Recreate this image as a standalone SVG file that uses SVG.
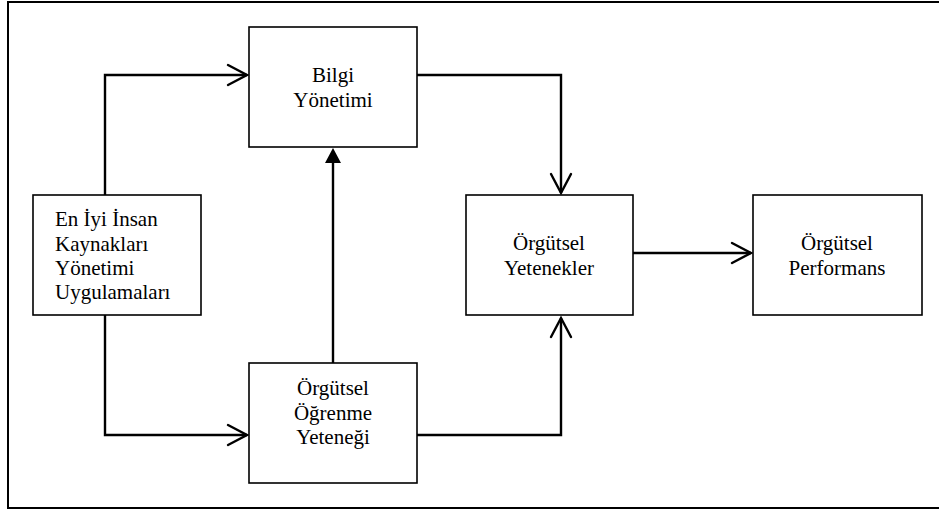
<svg xmlns="http://www.w3.org/2000/svg" width="939" height="511" viewBox="0 0 939 511">
  <style>
    .box { fill: #ffffff; stroke: #000000; stroke-width: 1.6; }
    .frame { fill: none; stroke: #000000; stroke-width: 2; }
    .conn { fill: none; stroke: #000000; stroke-width: 2.4; stroke-linejoin: miter; }
    .head { fill: none; stroke: #000000; stroke-width: 2.4; stroke-linecap: round; stroke-linejoin: miter; }
    .solid { fill: #000000; stroke: none; }
    .t { font-family: "Liberation Serif", "Times New Roman", serif; font-size: 21px; fill: #000000; }
    .c { text-anchor: middle; }
  </style>
  <rect x="0" y="0" width="939" height="511" fill="#ffffff"/>
  <rect class="frame" x="8" y="2" width="940" height="506"/>

  <g id="connectors">
    <!-- En Iyi -> Bilgi -->
    <polyline class="conn" points="105,195 105,75 247,75"/>
    <polyline class="head" points="228,65 247,75 228,85"/>
    <!-- En Iyi -> Ogrenme -->
    <polyline class="conn" points="105,315 105,435 247,435"/>
    <polyline class="head" points="228,425 247,435 228,445"/>
    <!-- Ogrenme -> Bilgi -->
    <line class="conn" x1="333" y1="363" x2="333" y2="162"/>
    <polygon class="solid" points="333,148 325,163 341,163"/>
    <!-- Bilgi -> Yetenekler -->
    <polyline class="conn" points="417,75 561,75 561,193"/>
    <polyline class="head" points="551,174 561,193 571,174"/>
    <!-- Ogrenme -> Yetenekler -->
    <polyline class="conn" points="417,435 561,435 561,318"/>
    <polyline class="head" points="551,337 561,318 571,337"/>
    <!-- Yetenekler -> Performans -->
    <line class="conn" x1="633" y1="253" x2="751" y2="253"/>
    <polyline class="head" points="732,243 751,253 732,263"/>
  </g>

  <g id="bilgi">
    <rect class="box" x="249" y="27" width="168" height="120"/>
    <text class="t c" x="333" y="82">Bilgi</text>
    <text class="t c" x="333" y="107">Yönetimi</text>
  </g>

  <g id="eniyi">
    <rect class="box" x="33" y="195" width="168" height="120"/>
    <text class="t" x="55" y="226">En İyi İnsan</text>
    <text class="t" x="55" y="251">Kaynakları</text>
    <text class="t" x="55" y="275">Yönetimi</text>
    <text class="t" x="55" y="299">Uygulamaları</text>
  </g>

  <g id="ogrenme">
    <rect class="box" x="249" y="363" width="168" height="120"/>
    <text class="t c" x="333" y="395">Örgütsel</text>
    <text class="t c" x="333" y="420">Öğrenme</text>
    <text class="t c" x="333" y="444">Yeteneği</text>
  </g>

  <g id="yetenekler">
    <rect class="box" x="466" y="195" width="167" height="120"/>
    <text class="t c" x="549" y="250">Örgütsel</text>
    <text class="t c" x="549" y="275">Yetenekler</text>
  </g>

  <g id="performans">
    <rect class="box" x="753" y="195" width="169" height="120"/>
    <text class="t c" x="837" y="250">Örgütsel</text>
    <text class="t c" x="837" y="275">Performans</text>
  </g>
</svg>
